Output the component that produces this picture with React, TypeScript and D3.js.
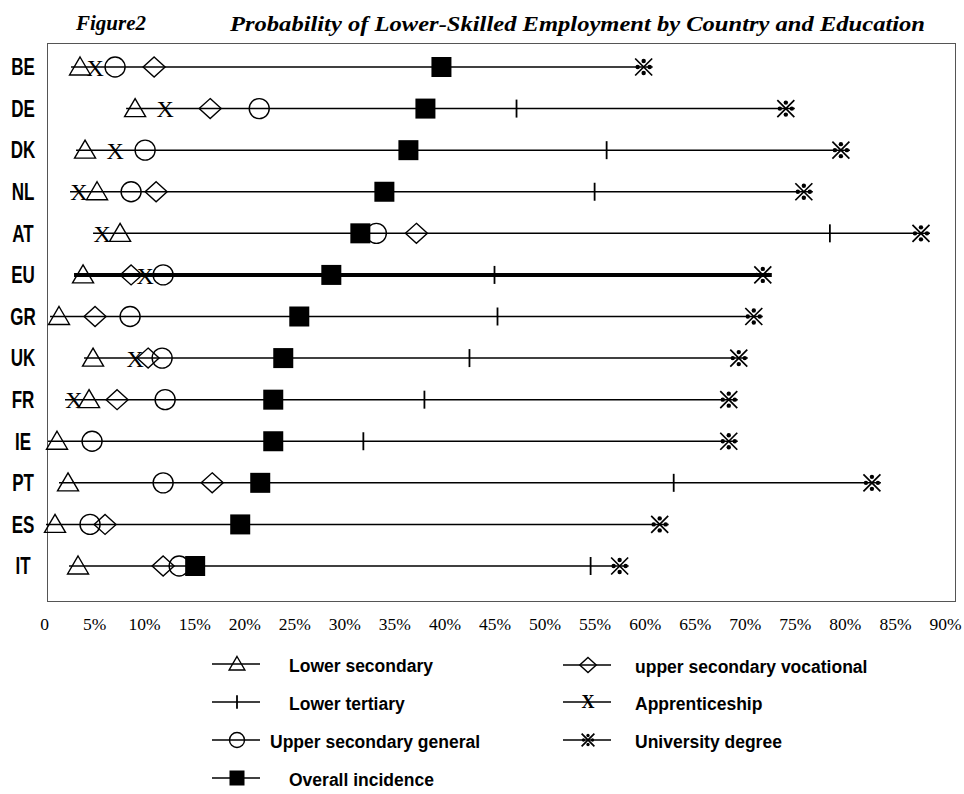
import * as d3 from "d3";
import { useEffect, useRef } from "react";

const countries = ["BE", "DE", "DK", "NL", "AT", "EU", "GR", "UK", "FR", "IE", "PT", "ES", "IT"];

// probability (%), null where the marker is not shown
const lowerSecondary = [3.6, 9.1, 4.1, 5.3, 7.6, 3.9, 1.5, 4.9, 4.5, 1.3, 2.4, 1.1, 3.4];
const upperSecVocational = [11.0, 16.6, null, 11.2, 37.2, 8.7, 5.1, 10.4, 7.3, null, 16.8, 6.1, 11.9];
const upperSecGeneral = [7.1, 21.5, 10.1, 8.7, 33.2, 11.9, 8.6, 11.8, 12.1, 4.8, 11.9, 4.6, 13.5];
const apprenticeship = [5.1, 12.1, 7.1, 3.5, 5.8, 10.1, null, 9.1, 3.0, null, null, null, null];
const lowerTertiary = [null, 47.2, 56.2, 55.0, 78.5, 45.0, 45.3, 42.5, 38.0, 31.9, 62.9, null, 54.6];
const universityDegree = [59.9, 74.1, 79.6, 75.9, 87.6, 71.8, 70.9, 69.4, 68.4, 68.4, 82.7, 61.5, 57.5];
const overallIncidence = [39.7, 38.1, 36.4, 34.0, 31.6, 28.7, 25.5, 23.9, 22.9, 22.9, 21.6, 19.6, 15.1];

const xTicks = [0, 5, 10, 15, 20, 25, 30, 35, 40, 45, 50, 55, 60, 65, 70, 75, 80, 85, 90];

type Shape = "triangle" | "tick" | "circle" | "square" | "diamond" | "cross" | "star";

// drawing order: overall incidence goes last so it sits on top
const series: { label: string; values: (number | null)[]; shape: Shape }[] = [
  { label: "Lower secondary", values: lowerSecondary, shape: "triangle" },
  { label: "upper secondary vocational", values: upperSecVocational, shape: "diamond" },
  { label: "Upper secondary general", values: upperSecGeneral, shape: "circle" },
  { label: "Apprenticeship", values: apprenticeship, shape: "cross" },
  { label: "Lower tertiary", values: lowerTertiary, shape: "tick" },
  { label: "University degree", values: universityDegree, shape: "star" },
  { label: "Overall incidence", values: overallIncidence, shape: "square" },
];

const legendLeft = ["Lower secondary", "Lower tertiary", "Upper secondary general", "Overall incidence"];
const legendRight = ["upper secondary vocational", "Apprenticeship", "University degree"];

const addMarker = (g: any, shape: Shape, cx: number, cy: number, s = 1) => {
  const m = g.append("g").attr("transform", `translate(${cx},${cy}) scale(${s})`);
  const sw = 1.4 / s;
  switch (shape) {
    case "triangle":
      m.append("path").attr("d", "M0,-10L10.5,8L-10.5,8Z")
        .attr("fill", "none").attr("stroke", "#000").attr("stroke-width", sw);
      break;
    case "diamond":
      m.append("path").attr("d", "M0,-10L11,0L0,10L-11,0Z")
        .attr("fill", "none").attr("stroke", "#000").attr("stroke-width", sw);
      break;
    case "circle":
      m.append("circle").attr("r", 10)
        .attr("fill", "none").attr("stroke", "#000").attr("stroke-width", sw);
      break;
    case "square":
      m.append("rect").attr("x", -10).attr("y", -10).attr("width", 20).attr("height", 20).attr("fill", "#000");
      break;
    case "tick":
      m.append("line").attr("y1", -9).attr("y2", 9).attr("stroke", "#000").attr("stroke-width", 1.8 / s);
      break;
    case "cross":
      m.append("text").text("X")
        .attr("text-anchor", "middle").attr("dy", "0.36em")
        .attr("font-family", "'Liberation Serif', 'DejaVu Serif', serif")
        .attr("font-size", 24).attr("fill", "#000");
      break;
    case "star":
      m.append("path").attr("d", "M-8.5,-8.5L8.5,8.5M8.5,-8.5L-8.5,8.5")
        .attr("stroke", "#000").attr("stroke-width", 1.7 / s);
      [[0, -6], [0, 6], [-6, 0], [6, 0]].forEach(([dx, dy]) =>
        m.append("circle").attr("cx", dx).attr("cy", dy).attr("r", 2.2).attr("fill", "#000"));
      break;
  }
};

const App = () => {
  const ref = useRef<SVGSVGElement>(null);

  useEffect(() => {
    const svg = d3.select(ref.current);
    svg.selectAll("*").remove();

    const x = d3.scaleLinear().domain([0, 90]).range([44, 945]);
    const y = d3.scalePoint().domain(countries).range([67, 566]);

    // titles
    svg.append("text").text("Figure2")
      .attr("x", 76).attr("y", 30)
      .attr("font-family", "'Liberation Serif', 'Times New Roman', serif")
      .attr("font-style", "italic").attr("font-weight", "bold").attr("font-size", 21);
    svg.append("text").text("Probability of Lower-Skilled Employment by Country and Education")
      .attr("x", 230).attr("y", 31)
      .attr("textLength", 695).attr("lengthAdjust", "spacingAndGlyphs")
      .attr("font-family", "'Liberation Serif', 'Times New Roman', serif")
      .attr("font-style", "italic").attr("font-weight", "bold").attr("font-size", 22);

    // plot frame
    svg.append("rect")
      .attr("x", 47.5).attr("y", 43.5).attr("width", 908).attr("height", 558)
      .attr("fill", "none").attr("stroke", "#555").attr("stroke-width", 1);

    // x tick labels
    const xAxis = svg.append("g")
      .attr("transform", "translate(0,615)")
      .call(d3.axisBottom(x).tickValues(xTicks).tickSize(0)
        .tickFormat((d: any) => (d === 0 ? "0" : `${d}%`)));
    xAxis.select(".domain").remove();
    xAxis.selectAll("text")
      .attr("font-family", "'Liberation Serif', 'DejaVu Serif', serif")
      .attr("font-size", 17.5).attr("fill", "#000");

    // country labels, squeezed horizontally like the narrow original face
    svg.append("g").selectAll("text").data(countries).join("text")
      .text((d) => d)
      .attr("transform", (d) => `translate(23,${y(d)}) scale(0.74,1)`)
      .attr("dy", "0.36em").attr("text-anchor", "middle")
      .attr("font-family", "'Liberation Sans', Arial, sans-serif")
      .attr("font-weight", "bold").attr("font-size", 23);

    // one line per country from lowest to highest value
    const rows = svg.append("g");
    countries.forEach((c, i) => {
      const vals = series.map((s) => s.values[i]).filter((v) => v != null) as number[];
      rows.append("line")
        .attr("x1", x(d3.min(vals)!) - 9).attr("x2", x(d3.max(vals)!) + 9)
        .attr("y1", y(c)!).attr("y2", y(c)!)
        .attr("stroke", "#000").attr("stroke-width", c === "EU" ? 4 : 1.5);
    });

    const marks = svg.append("g");
    series.forEach((s) => {
      s.values.forEach((v, i) => {
        if (v == null) return;
        addMarker(marks, s.shape, x(v), y(countries[i])!);
      });
    });

    // legend
    const shapeOf = (label: string) => series.find((s) => s.label === label)!.shape;
    const legend = svg.append("g")
      .attr("font-family", "'Liberation Sans', Arial, sans-serif")
      .attr("font-weight", "bold").attr("font-size", 17.5);
    const drawEntry = (label: string, lx: number, ly: number, tx: number) => {
      legend.append("line").attr("x1", lx).attr("x2", lx + 48).attr("y1", ly).attr("y2", ly)
        .attr("stroke", "#000").attr("stroke-width", 1.5);
      addMarker(legend, shapeOf(label), lx + 25, ly, 0.75);
      legend.append("text").text(label).attr("x", tx).attr("y", ly + 2).attr("dy", "0.35em");
    };
    const leftRows = [664, 702, 740, 778];
    legendLeft.forEach((l, i) => drawEntry(l, 212, leftRows[i], i === 2 ? 270 : 289));
    const rightRows = [665, 702, 740];
    legendRight.forEach((l, i) => drawEntry(l, 563, rightRows[i], 635));
  }, []);

  return (
    <svg ref={ref} width={964} height={794}
      style={{ position: "absolute", left: 0, top: 0, background: "#fff" }} />
  );
};

export default App;
